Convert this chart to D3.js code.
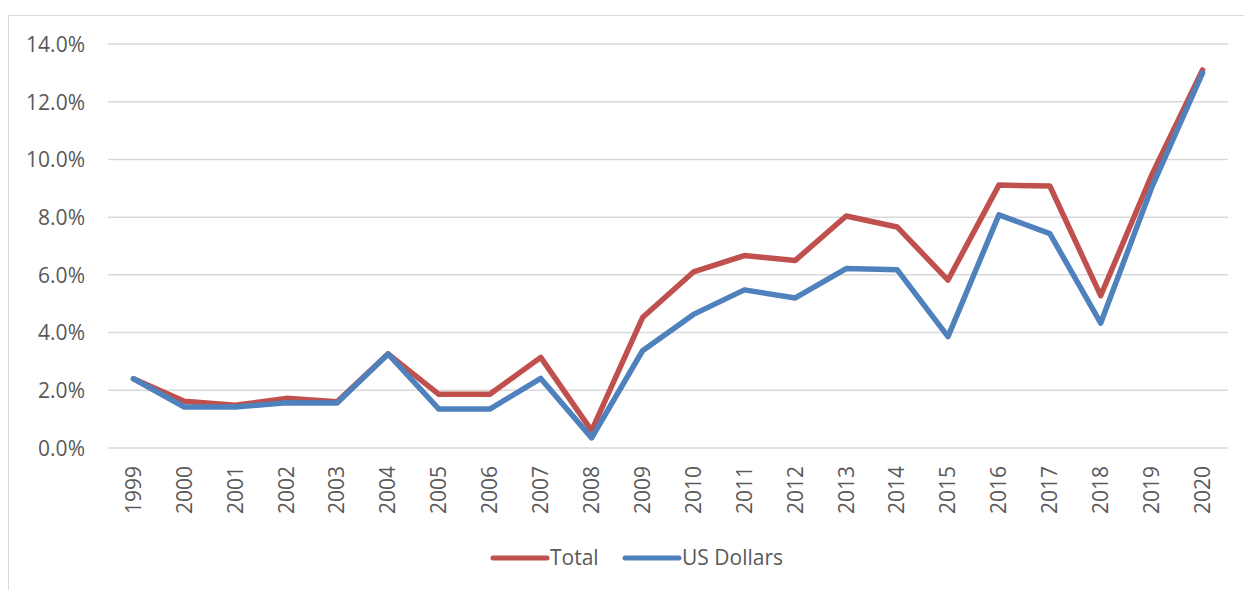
<!DOCTYPE html>
<html>
<head>
<meta charset="utf-8">
<script src="https://cdn.jsdelivr.net/npm/d3@7"></script>
<style>
  body { margin: 0; background: #fff; }
  text { font-family: "Open Sans", "Noto Sans", sans-serif; fill: #595959; }
</style>
</head>
<body>
<svg id="chart" width="1244" height="590"></svg>
<script>
var years = ["1999","2000","2001","2002","2003","2004","2005","2006","2007","2008","2009",
  "2010","2011","2012","2013","2014","2015","2016","2017","2018","2019","2020"];
var total = [2.4, 1.62, 1.48, 1.72, 1.6, 3.26, 1.86, 1.86, 3.14, 0.6, 4.52,
  6.1, 6.67, 6.5, 8.04, 7.66, 5.82, 9.11, 9.08, 5.28, 9.45, 13.1];
var usDollars = [2.4, 1.42, 1.42, 1.57, 1.56, 3.26, 1.35, 1.35, 2.41, 0.35, 3.37,
  4.63, 5.48, 5.2, 6.22, 6.18, 3.86, 8.08, 7.43, 4.33, 9.02, 13.0];
var yTicks = [0, 2, 4, 6, 8, 10, 12, 14];

var series = [
  { name: "Total", values: total, color: "#C0504D" },
  { name: "US Dollars", values: usDollars, color: "#4F81BD" }
];

var margin = { top: 44, right: 16, bottom: 142, left: 108 },
  width = 1244 - margin.left - margin.right,
  height = 590 - margin.top - margin.bottom;

var svg = d3.select("#chart");

// outer chart border
svg.append("rect")
  .attr("x", 8.5).attr("y", 15.5)
  .attr("width", 1260).attr("height", 600)
  .attr("fill", "none")
  .attr("stroke", "#d9d9d9")
  .attr("stroke-width", 1);

var g = svg.append("g").attr("transform", "translate(" + margin.left + "," + margin.top + ")");

var x = d3.scaleBand().domain(years).range([0, width]);
var y = d3.scaleLinear().domain([0, 14]).range([height, 0]);

// gridlines
g.selectAll(".grid")
  .data(yTicks)
  .enter()
  .append("line")
  .attr("x1", 0).attr("x2", width)
  .attr("y1", d => y(d)).attr("y2", d => y(d))
  .attr("stroke", "#d9d9d9")
  .attr("stroke-width", 1.5);

// y axis
var yAxis = g.append("g")
  .call(d3.axisLeft(y).tickValues(yTicks).tickFormat(d => d.toFixed(1) + "%").tickSize(0).tickPadding(23));
yAxis.select(".domain").remove();
yAxis.selectAll("text").style("font-size", "21px").attr("fill", "#595959").attr("dy", "0.35em");

// x axis
var xAxis = g.append("g")
  .attr("transform", "translate(0," + height + ")")
  .call(d3.axisBottom(x).tickSize(0));
xAxis.select(".domain").remove();
xAxis.selectAll("text")
  .style("font-size", "21px")
  .attr("fill", "#595959")
  .attr("transform", "rotate(-90)")
  .attr("text-anchor", "end")
  .attr("x", -18)
  .attr("y", 0)
  .attr("dy", "0.35em");

// lines
var line = d3.line()
  .x((d, i) => x(years[i]) + x.bandwidth() / 2)
  .y(d => y(d));

g.selectAll(".series")
  .data(series)
  .enter()
  .append("path")
  .attr("d", d => line(d.values))
  .attr("fill", "none")
  .attr("stroke", d => d.color)
  .attr("stroke-width", 5.5)
  .attr("stroke-linejoin", "round")
  .attr("stroke-linecap", "round");

// legend
var legend = svg.append("g").attr("transform", "translate(0,558)");
var legendX = [493, 625];
series.forEach(function (s, i) {
  legend.append("line")
    .attr("x1", legendX[i]).attr("x2", legendX[i] + 54)
    .attr("y1", 0).attr("y2", 0)
    .attr("stroke", s.color)
    .attr("stroke-width", 5)
    .attr("stroke-linecap", "round");
  legend.append("text")
    .attr("x", legendX[i] + 57)
    .attr("y", 0)
    .attr("dy", "0.35em")
    .style("font-size", "21px")
    .text(s.name);
});
</script>
</body>
</html>
